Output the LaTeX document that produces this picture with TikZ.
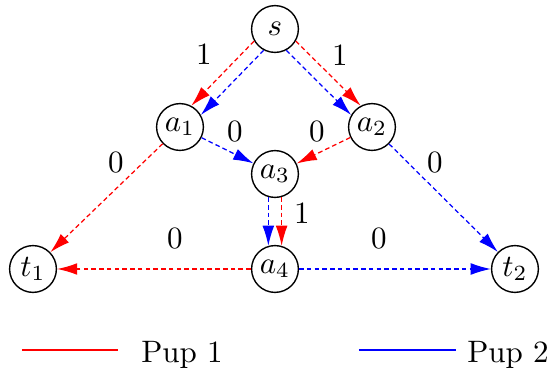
\documentclass[tikz,border=0pt]{standalone}
\usepackage{amsmath}
\usepackage{tikz}
\usetikzlibrary{arrows.meta}

\begin{document}
\begin{tikzpicture}[x=0.3226pt,y=-0.3226pt,
    vert/.style={circle,draw,line width=0.45pt,minimum size=15.1pt,inner sep=0pt},
    pupone/.style={red,line width=0.4pt,dash pattern=on 1.5pt off 1pt,-{Latex[length=6.5pt,width=3.8pt]}},
    puptwo/.style={blue,line width=0.4pt,dash pattern=on 1.5pt off 1pt,-{Latex[length=6.5pt,width=3.8pt]}}]
    \useasboundingbox (0,0) rectangle (548,372);
    % vertices
        \node[vert] (s) at (275,29) {$s$};
        \node[vert] (a1) at (180,127) {$a_1$};
        \node[vert] (a2) at (372,127) {$a_2$};
        \node[vert] (a3) at (275,174) {$a_3$};
        \node[vert] (a4) at (275,269) {$a_4$};
        \node[vert] (t1) at (33,269) {$t_1$};
        \node[vert] (t2) at (515,269) {$t_2$};
    % top edges, both pups
        \draw[pupone] (s.210) -- (a1.62);
        \draw[puptwo] (s.242) -- (a1.30);
        \draw[pupone] (s.330) -- (a2.118);
        \draw[puptwo] (s.298) -- (a2.150);
    % middle
        \draw[pupone] (a1) -- (t1);
        \draw[puptwo] (a1) -- (a3);
        \draw[pupone] (a2) -- (a3);
        \draw[puptwo] (a2) -- (t2);
        \draw[puptwo] (a3.254) -- (a4.106);
        \draw[pupone] (a3.286) -- (a4.74);
    % bottom
        \draw[pupone] (a4) -- (t1);
        \draw[puptwo] (a4) -- (t2);
    % weights
        \node (w1) at (204,54) {1};
        \node (w2) at (340,55) {1};
        \node (w3) at (116,163) {0};
        \node (w4) at (235,132) {0};
        \node (w5) at (317,132) {0};
        \node (w6) at (435,163) {0};
        \node (w7) at (302,213) {1};
        \node (w8) at (175,239) {0};
        \node (w9) at (379,239) {0};
    % legend
        \coordinate (r1) at (22,350);
        \coordinate (r2) at (118,350);
        \coordinate (b1) at (359,350);
        \coordinate (b2) at (456,350);
        \draw[red,line width=0.4pt] (r1) -- (r2);
        \draw[blue,line width=0.4pt] (b1) -- (b2);
        \node[anchor=base] (l1) at (182,363) {Pup 1};
        \node[anchor=base] (l2) at (508,363) {Pup 2};
\end{tikzpicture}
\end{document}
